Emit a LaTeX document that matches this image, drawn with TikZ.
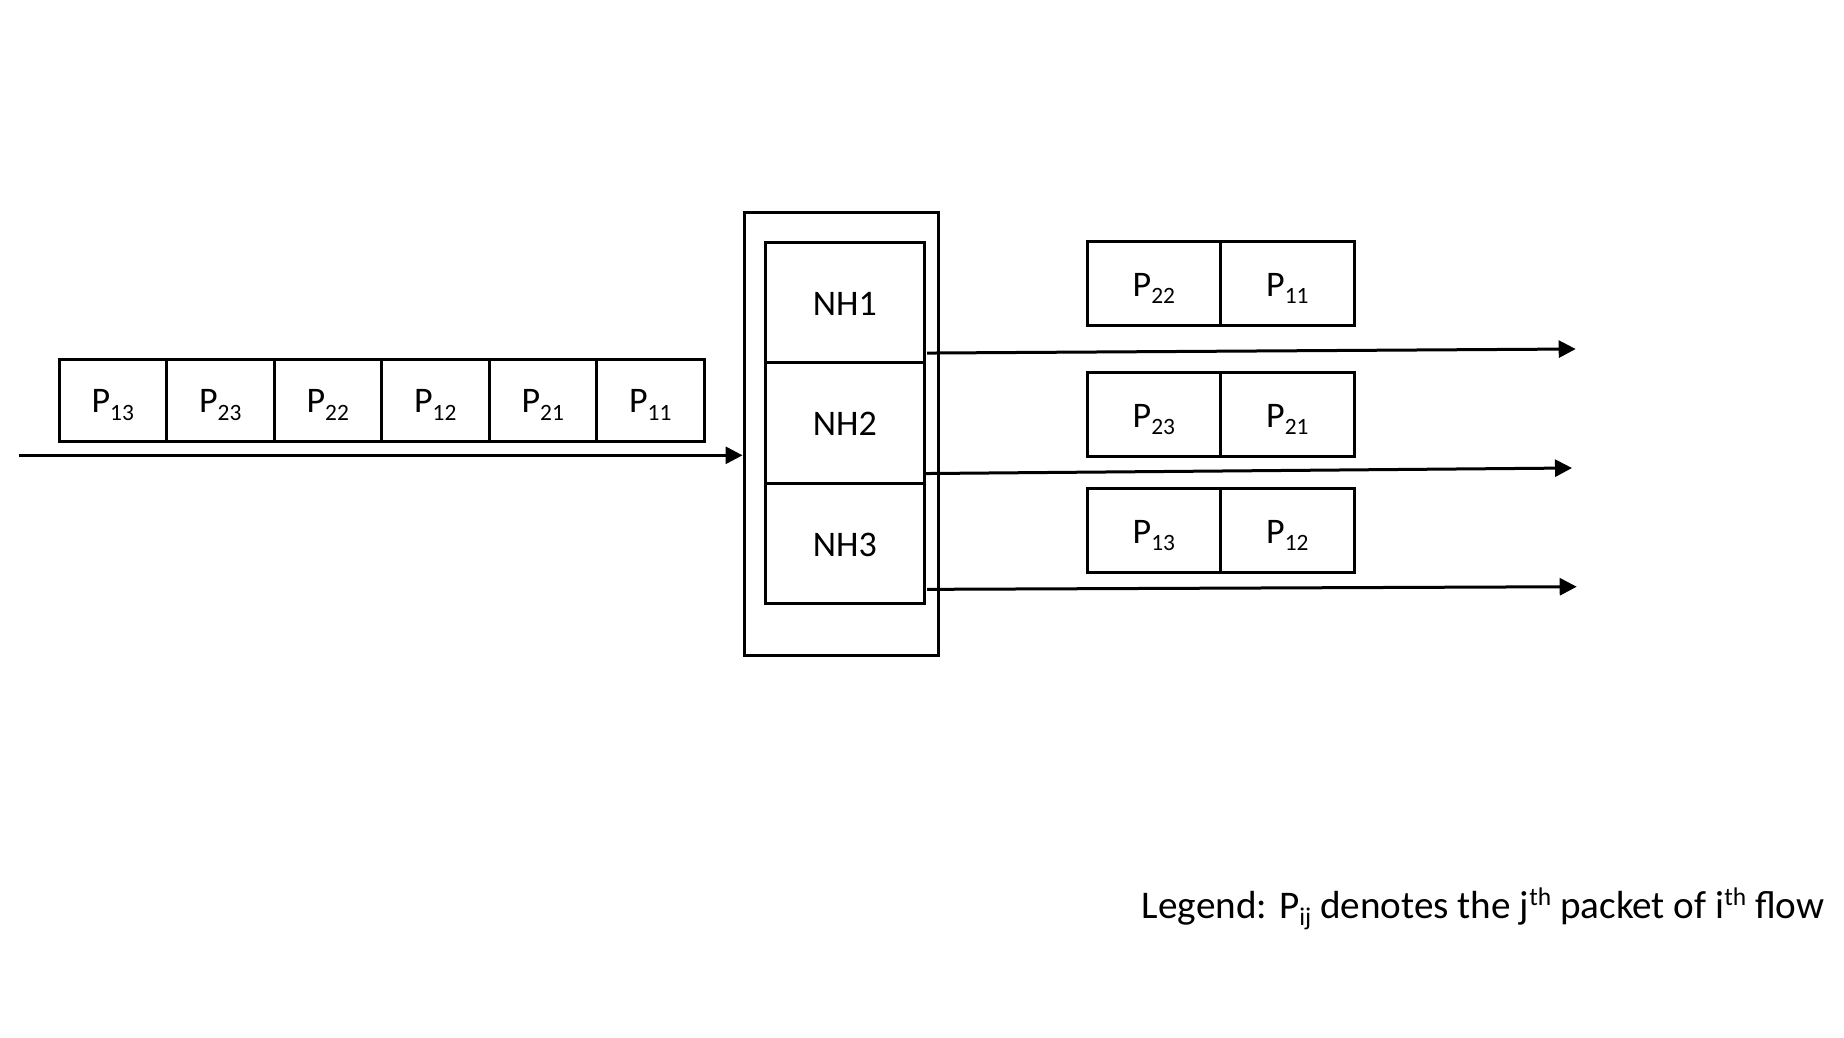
\documentclass[tikz,border=0pt]{standalone}
\usepackage{fontspec}
\setmainfont{Carlito}
\usetikzlibrary{arrows.meta}
\newcommand\mysub[1]{\raisebox{-0.2em}{\fontsize{0.65em}{0.65em}\selectfont #1}}
\newcommand\mysup[1]{\raisebox{0.33em}{\fontsize{0.65em}{0.65em}\selectfont #1}}
\begin{document}
\begin{tikzpicture}[x=1pt,y=-1pt,
  txt/.style={inner sep=0pt,text height=30pt,text depth=5pt,font=\fontsize{36}{40}\selectfont},
  cell/.style={draw,line width=3pt,txt,minimum width=107.5pt,minimum height=82.7pt},
  ocell/.style={draw,line width=3pt,txt,minimum width=133.5pt,minimum height=84pt},
  nhcell/.style={draw,line width=3pt,txt,minimum width=158.3pt,minimum height=120.7pt},
  frame/.style={draw,line width=3pt,inner sep=0pt},
  flow/.style={line width=3pt,-{Triangle[length=17pt,width=17pt]}}]
\useasboundingbox (0,0) rectangle (1844,1037);
% input queue
\node[cell] (q1) at (112.75,400.35) {P\mysub{13}};
\node[cell] (q2) at (220.25,400.35) {P\mysub{23}};
\node[cell] (q3) at (327.75,400.35) {P\mysub{22}};
\node[cell] (q4) at (435.25,400.35) {P\mysub{12}};
\node[cell] (q5) at (542.75,400.35) {P\mysub{21}};
\node[cell] (q6) at (650.25,400.35) {P\mysub{11}};
% router
\node[frame,minimum width=194pt,minimum height=442.3pt] (outer) at (841,433.85) {};
\node[nhcell] (nh1) at (844.85,302.5) {NH1};
\node[nhcell] (nh2) at (844.85,423) {NH2};
\node[nhcell] (nh3) at (844.85,543.5) {NH3};
% output queues
\node[ocell] (a1) at (1153.85,283.7) {P\mysub{22}};
\node[ocell] (a2) at (1287.35,283.7) {P\mysub{11}};
\node[ocell] (b1) at (1153.85,414.7) {P\mysub{23}};
\node[ocell] (b2) at (1287.35,414.7) {P\mysub{21}};
\node[ocell] (c1) at (1153.85,530.85) {P\mysub{13}};
\node[ocell] (c2) at (1287.35,530.85) {P\mysub{12}};
% connectors
\coordinate (src) at (19,455.3);
\coordinate (o1) at (1575.7,349);
\coordinate (o2) at (1572,468);
\coordinate (o3) at (1576.7,586.7);
\draw[flow] (src) -- (src -| outer.west);
\draw[flow] ([xshift=1.5pt,yshift=11.3pt]nh1.south east) -- (o1);
\draw[flow] ([xshift=-2pt,yshift=11.3pt]nh2.south east) -- (o2);
\draw[flow] ([xshift=1.5pt,yshift=16pt]nh3.south east) -- (o3);
% legend
\node[anchor=base west,inner sep=0pt,font=\fontsize{39.2}{44}\selectfont] (legend) at (1141.7,918)
  {Legend: P\mysub{ij} denotes the j\mysup{th} packet of i\mysup{th} flow};
\end{tikzpicture}
\end{document}
